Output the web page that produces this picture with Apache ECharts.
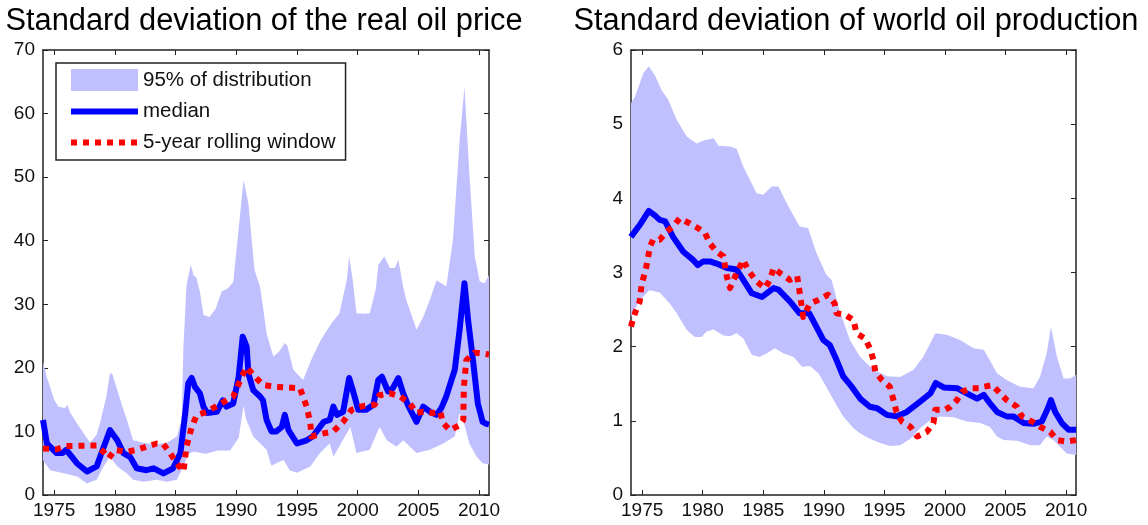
<!DOCTYPE html>
<html>
<head>
<meta charset="utf-8">
<script src="https://cdn.jsdelivr.net/npm/echarts@6/dist/echarts.min.js"></script>
<style>
  html, body { margin: 0; padding: 0; background: #fff; }
  #chart { width: 1148px; height: 525px; }
</style>
</head>
<body>
<div id="chart"></div>
<script>
// year ticks shared by both panels
const yearTicks = [1975, 1980, 1985, 1990, 1995, 2000, 2005, 2010]

// ---- real oil price ----
const oilUpX = [1974.08, 1974.4, 1974.67, 1975.0, 1975.36, 1975.9, 1976.1, 1976.3, 1976.87, 1977.5, 1977.96, 1978.5, 1978.8, 1979.3, 1979.6, 1979.8, 1980.2, 1980.6, 1981.0, 1981.5, 1982.35, 1983.3, 1984.3, 1985.1, 1985.5, 1985.65, 1985.9, 1986.25, 1986.5, 1986.7, 1987.0, 1987.3, 1987.8, 1988.3, 1988.8, 1989.3, 1989.75, 1990.2, 1990.6, 1991.0, 1991.5, 1991.96, 1992.2, 1992.5, 1993.05, 1993.5, 1994.0, 1994.2, 1994.7, 1995.5, 1996.3, 1997.0, 1997.85, 1998.5, 1999.1, 1999.3, 1999.6, 1999.9, 2000.5, 2001.0, 2001.5, 2001.7, 2002.2, 2002.65, 2003.07, 2003.35, 2003.75, 2004.0, 2004.85, 2005.4, 2005.95, 2006.5, 2007.3, 2007.85, 2008.4, 2008.8, 2009.2, 2009.65, 2010.06, 2010.45, 2010.82]
const oilUpY = [21.0, 18.5, 17.0, 15.0, 13.9, 13.7, 14.2, 13.0, 11.3, 9.5, 8.2, 9.5, 11.5, 15.5, 19.2, 19.0, 16.5, 14.0, 11.8, 8.6, 8.2, 8.0, 8.2, 9.2, 11.8, 23.3, 33.0, 36.2, 34.5, 34.3, 32.0, 28.3, 28.0, 29.3, 32.0, 32.5, 33.5, 42.0, 49.5, 45.9, 35.4, 32.8, 29.6, 25.4, 21.8, 22.5, 23.9, 23.5, 19.7, 18.1, 21.8, 24.5, 27.0, 28.6, 33.8, 37.5, 33.8, 28.6, 28.5, 28.6, 32.5, 36.2, 37.5, 35.7, 35.7, 37.0, 32.8, 30.7, 26.0, 28.0, 30.7, 33.8, 32.8, 40.1, 55.8, 64.2, 50.6, 37.5, 33.6, 33.3, 34.6]
const oilLowX = [1974.08, 1974.67, 1975.9, 1976.9, 1977.7, 1978.5, 1979.06, 1979.6, 1980.2, 1981.0, 1981.5, 1982.35, 1983.45, 1984.3, 1985.1, 1985.65, 1986.05, 1986.5, 1987.5, 1988.5, 1989.5, 1990.2, 1990.6, 1990.8, 1991.4, 1992.5, 1992.9, 1993.3, 1993.9, 1994.4, 1995.0, 1996.1, 1996.9, 1997.7, 1998.0, 1999.1, 1999.4, 1999.9, 2001.0, 2001.8, 2002.4, 2003.2, 2003.75, 2004.85, 2005.95, 2007.05, 2008.0, 2008.4, 2008.8, 2009.2, 2009.8, 2010.3, 2010.82]
const oilLowY = [5.5, 3.9, 3.4, 2.9, 1.8, 2.4, 4.5, 6.0, 4.5, 3.4, 2.4, 2.1, 2.4, 2.1, 2.4, 4.5, 6.5, 6.8, 6.5, 7.0, 7.0, 9.0, 14.0, 12.0, 9.2, 7.1, 4.6, 5.0, 5.5, 3.9, 3.5, 4.5, 6.6, 8.1, 6.0, 9.7, 10.7, 6.6, 7.1, 10.7, 8.6, 7.6, 8.6, 6.6, 7.1, 8.1, 9.2, 12.9, 11.0, 8.1, 6.0, 5.0, 4.8]
const oilMedX = [1974.08, 1974.4, 1975.2, 1975.7, 1976.0, 1976.87, 1977.7, 1978.5, 1978.9, 1979.6, 1980.2, 1980.7, 1981.25, 1981.8, 1982.6, 1983.2, 1984.0, 1984.8, 1985.4, 1985.8, 1986.05, 1986.33, 1986.6, 1987.0, 1987.3, 1987.6, 1988.4, 1988.9, 1989.2, 1989.75, 1990.2, 1990.53, 1990.86, 1991.0, 1991.4, 1991.96, 1992.2, 1992.5, 1992.9, 1993.3, 1993.75, 1994.0, 1994.3, 1995.0, 1995.8, 1996.3, 1997.2, 1997.7, 1998.0, 1998.3, 1998.8, 1999.3, 1999.6, 2000.05, 2000.7, 2001.3, 2001.7, 2002.0, 2002.5, 2002.9, 2003.35, 2003.75, 2004.2, 2004.85, 2005.4, 2005.95, 2006.5, 2006.9, 2007.3, 2008.0, 2008.4, 2008.8, 2009.1, 2009.5, 2009.9, 2010.3, 2010.6, 2010.82]
const oilMedY = [11.8, 8.1, 6.6, 6.6, 7.1, 5.0, 3.7, 4.5, 6.6, 10.2, 8.6, 6.6, 6.0, 4.2, 3.9, 4.2, 3.4, 4.2, 6.6, 12.9, 17.6, 18.4, 17.0, 16.0, 13.9, 12.9, 13.1, 14.9, 13.9, 14.4, 18.6, 24.9, 23.3, 19.1, 16.5, 15.5, 14.9, 11.8, 10.0, 10.0, 10.7, 12.6, 10.2, 8.1, 8.6, 9.2, 11.5, 11.8, 13.9, 12.6, 13.1, 18.4, 16.5, 13.4, 13.4, 14.2, 18.1, 18.6, 16.3, 16.8, 18.4, 16.0, 13.9, 11.5, 13.9, 13.1, 12.6, 13.7, 15.5, 19.7, 26.0, 33.3, 27.5, 21.2, 14.4, 11.5, 11.2, 11.1]
const oilRollX = [1974.08, 1975.2, 1976.0, 1978.5, 1979.06, 1979.5, 1980.0, 1981.0, 1981.8, 1982.6, 1983.45, 1984.0, 1984.55, 1985.1, 1985.65, 1985.9, 1986.33, 1986.75, 1987.6, 1988.3, 1989.75, 1990.45, 1990.86, 1991.4, 1992.2, 1993.3, 1995.25, 1995.8, 1996.1, 1996.2, 1997.2, 1998.0, 1998.8, 1999.5, 2000.45, 2001.4, 2001.8, 2002.65, 2003.5, 2004.3, 2004.85, 2005.4, 2006.2, 2006.8, 2007.05, 2007.6, 2008.4, 2008.7, 2008.75, 2008.95, 2009.65, 2010.82]
const oilRollY = [7.3, 7.2, 7.7, 7.8, 6.8, 5.8, 7.1, 6.8, 7.1, 7.6, 8.1, 8.0, 6.6, 5.0, 3.7, 7.6, 10.7, 12.6, 13.1, 13.9, 15.5, 18.6, 20.1, 18.9, 17.3, 17.0, 16.8, 13.9, 11.3, 9.2, 9.7, 10.0, 11.5, 13.4, 14.0, 14.2, 15.7, 16.0, 15.5, 14.4, 12.9, 13.1, 12.9, 13.1, 11.3, 10.2, 11.0, 11.8, 17.0, 21.2, 22.4, 22.1]

// ---- world oil production ----
const prodUpX = [1974.07, 1974.4, 1974.8, 1975.1, 1975.55, 1976.05, 1976.6, 1977.15, 1977.85, 1978.7, 1979.5, 1980.05, 1980.9, 1981.3, 1982.25, 1982.8, 1983.35, 1984.45, 1985.0, 1985.7, 1986.25, 1986.95, 1988.0, 1988.7, 1989.4, 1990.2, 1990.65, 1991.3, 1992.15, 1993.0, 1994.1, 1995.2, 1996.3, 1997.4, 1998.2, 1998.8, 1999.2, 2000.15, 2001.25, 2002.35, 2003.2, 2003.7, 2004.3, 2005.1, 2006.2, 2007.3, 2007.85, 2008.4, 2008.75, 2009.25, 2009.8, 2010.35, 2010.83]
const prodUpY = [5.28, 5.37, 5.55, 5.69, 5.78, 5.66, 5.46, 5.33, 5.06, 4.83, 4.74, 4.78, 4.81, 4.71, 4.70, 4.67, 4.43, 4.07, 4.05, 4.16, 4.16, 3.93, 3.62, 3.60, 3.26, 2.97, 2.90, 2.49, 2.09, 1.86, 1.69, 1.60, 1.59, 1.69, 1.86, 2.05, 2.18, 2.16, 2.09, 1.98, 1.96, 1.82, 1.64, 1.55, 1.46, 1.44, 1.59, 1.91, 2.27, 1.86, 1.57, 1.57, 1.62]
const prodLowX = [1974.07, 1974.8, 1975.6, 1976.45, 1977.3, 1977.85, 1978.7, 1979.35, 1979.9, 1980.3, 1980.9, 1981.7, 1982.25, 1982.8, 1983.35, 1984.05, 1984.7, 1985.3, 1985.95, 1986.65, 1987.5, 1988.2, 1988.85, 1989.55, 1990.2, 1990.8, 1991.6, 1992.45, 1993.0, 1993.8, 1994.65, 1995.45, 1996.3, 1997.15, 1997.95, 1998.8, 1999.6, 2000.7, 2001.8, 2002.9, 2003.7, 2004.3, 2004.85, 2005.95, 2007.05, 2007.85, 2008.4, 2008.95, 2009.5, 2010.05, 2010.83]
const prodLowY = [2.40, 2.63, 2.76, 2.73, 2.58, 2.45, 2.22, 2.13, 2.13, 2.20, 2.23, 2.15, 2.14, 2.18, 2.11, 1.89, 1.86, 1.91, 1.98, 1.91, 1.86, 1.73, 1.74, 1.64, 1.46, 1.28, 1.06, 0.90, 0.83, 0.76, 0.70, 0.66, 0.67, 0.76, 0.90, 1.01, 1.06, 1.05, 0.99, 0.97, 0.92, 0.79, 0.74, 0.73, 0.67, 0.67, 0.79, 0.74, 0.65, 0.56, 0.54]
const prodMedX = [1974.07, 1974.8, 1975.55, 1976.05, 1976.45, 1976.9, 1977.55, 1978.4, 1979.2, 1979.6, 1980.05, 1980.6, 1981.15, 1982.0, 1982.8, 1983.35, 1984.05, 1984.9, 1985.85, 1986.25, 1987.2, 1988.0, 1988.8, 1989.25, 1989.95, 1990.5, 1991.05, 1991.6, 1992.3, 1993.0, 1993.8, 1994.4, 1995.2, 1996.0, 1996.85, 1997.95, 1998.8, 1999.25, 1999.9, 2001.0, 2001.8, 2002.65, 2003.2, 2003.7, 2004.3, 2005.1, 2005.65, 2006.5, 2007.3, 2008.0, 2008.5, 2008.75, 2009.1, 2009.65, 2010.2, 2010.83]
const prodMedY = [3.48, 3.64, 3.83, 3.77, 3.71, 3.69, 3.48, 3.28, 3.17, 3.10, 3.15, 3.15, 3.12, 3.06, 3.04, 2.90, 2.72, 2.67, 2.79, 2.77, 2.61, 2.45, 2.45, 2.31, 2.09, 2.02, 1.82, 1.60, 1.46, 1.30, 1.19, 1.17, 1.08, 1.06, 1.12, 1.26, 1.37, 1.51, 1.45, 1.44, 1.37, 1.30, 1.35, 1.24, 1.12, 1.06, 1.06, 0.97, 0.96, 0.99, 1.17, 1.28, 1.12, 0.97, 0.88, 0.88]
const prodRollX = [1974.07, 1974.4, 1974.8, 1974.95, 1975.35, 1975.65, 1975.9, 1976.45, 1977.0, 1977.55, 1978.1, 1978.95, 1979.6, 1980.2, 1980.6, 1981.15, 1981.7, 1982.0, 1982.25, 1982.8, 1983.35, 1983.75, 1984.45, 1985.15, 1985.55, 1985.85, 1986.4, 1987.2, 1987.8, 1988.1, 1988.3, 1988.85, 1989.55, 1990.35, 1990.9, 1991.05, 1991.75, 1992.45, 1992.7, 1993.4, 1993.8, 1994.1, 1994.25, 1994.8, 1995.45, 1995.75, 1996.0, 1996.45, 1997.15, 1997.7, 1998.5, 1999.05, 1999.2, 2000.0, 2000.45, 2001.0, 2001.4, 2002.1, 2002.9, 2003.2, 2003.9, 2004.45, 2005.1, 2005.95, 2006.35, 2007.2, 2007.85, 2008.7, 2009.25, 2010.05, 2010.83]
const prodRollY = [2.27, 2.45, 2.61, 2.83, 3.08, 3.35, 3.44, 3.44, 3.55, 3.62, 3.73, 3.66, 3.60, 3.53, 3.39, 3.28, 3.22, 2.94, 2.79, 2.99, 3.17, 3.03, 2.88, 2.79, 2.90, 3.06, 2.99, 2.90, 2.95, 2.63, 2.40, 2.58, 2.63, 2.70, 2.58, 2.45, 2.43, 2.36, 2.18, 2.11, 1.98, 1.82, 1.66, 1.55, 1.46, 1.28, 1.12, 0.99, 0.92, 0.79, 0.85, 0.97, 1.15, 1.15, 1.19, 1.28, 1.39, 1.44, 1.44, 1.46, 1.48, 1.39, 1.28, 1.19, 1.06, 0.99, 0.92, 0.85, 0.74, 0.72, 0.74]

const bandColor = '#c0c0ff'
const medColor = '#0000ff'
const rollColor = '#ff0000'
const fontFamily = 'Liberation Sans, Arial, Helvetica, sans-serif'
const axisColor = '#222'

const pairs = (xs, ys) => xs.map((x, i) => [x, ys[i]])

function bandSeries(upX, upY, lowX, lowY, idx) {
  return {
    type: 'custom',
    name: '95% of distribution',
    xAxisIndex: idx * 2,
    yAxisIndex: idx * 2,
    silent: true,
    z: 1,
    itemStyle: { color: bandColor },
    data: [[upX[0], upY[0]]],
    renderItem(params, api) {
      const points = upX.map((x, i) => api.coord([x, upY[i]]))
      for (let i = lowX.length - 1; i >= 0; i--) {
        points.push(api.coord([lowX[i], lowY[i]]))
      }
      return { type: 'polygon', shape: { points }, style: { fill: bandColor } }
    }
  }
}

function lineSeries(name, xs, ys, color, dashed, idx) {
  return {
    type: 'line',
    name,
    xAxisIndex: idx * 2,
    yAxisIndex: idx * 2,
    symbol: 'none',
    silent: true,
    z: dashed ? 3 : 2,
    itemStyle: { color },
    lineStyle: { color, width: 6, type: dashed ? [6, 6] : 'solid', cap: 'butt', join: 'round' },
    data: pairs(xs, ys)
  }
}

function xAxes(grid) {
  const base = {
    type: 'value',
    gridIndex: grid,
    min: 1974.08,
    max: 2010.82,
    splitLine: { show: false },
    axisLine: { show: true, onZero: false, lineStyle: { color: axisColor, width: 1.5 } },
    axisTick: { show: true, inside: true, length: 5, customValues: yearTicks, lineStyle: { color: axisColor } }
  }
  return [
    Object.assign({}, base, {
      position: 'bottom',
      axisLabel: {
        customValues: yearTicks,
        formatter: v => String(v),
        color: '#111',
        fontSize: 19,
        fontFamily,
        margin: 6
      }
    }),
    Object.assign({}, base, { position: 'top', axisLabel: { show: false } })
  ]
}

function yAxes(grid, max, interval) {
  const base = {
    type: 'value',
    gridIndex: grid,
    min: 0,
    max,
    interval,
    splitLine: { show: false },
    axisLine: { show: true, onZero: false, lineStyle: { color: axisColor, width: 1.5 } },
    axisTick: { show: true, inside: true, length: 5, lineStyle: { color: axisColor } }
  }
  return [
    Object.assign({}, base, {
      position: 'left',
      axisLabel: { color: '#111', fontSize: 19, fontFamily, margin: 8 }
    }),
    Object.assign({}, base, { position: 'right', axisLabel: { show: false } })
  ]
}

const chart = echarts.init(document.getElementById('chart'), null, { renderer: 'canvas' })

chart.setOption({
  animation: false,
  backgroundColor: '#fff',
  title: [
    {
      text: 'Standard deviation of the real oil price',
      left: 264,
      textAlign: 'center',
      top: 6,
      padding: 0,
      textStyle: { fontSize: 30.8, fontWeight: 'normal', color: '#000', fontFamily }
    },
    {
      text: 'Standard deviation of world oil production',
      left: 856,
      textAlign: 'center',
      top: 6,
      padding: 0,
      textStyle: { fontSize: 30.8, fontWeight: 'normal', color: '#000', fontFamily }
    }
  ],
  legend: {
    orient: 'vertical',
    left: 56,
    top: 63,
    itemWidth: 67,
    itemHeight: 22,
    itemGap: 10,
    padding: [6, 10, 7, 12],
    borderColor: '#222',
    borderWidth: 1.5,
    backgroundColor: '#fff',
    selectedMode: false,
    textStyle: { fontSize: 20.5, color: '#111', fontFamily },
    lineStyle: { width: 'inherit' },
    data: [
      { name: '95% of distribution', icon: 'rect' },
      // line series always add a marker to their legend icon; hide it
      { name: 'median', itemStyle: { opacity: 0 } },
      { name: '5-year rolling window', itemStyle: { opacity: 0 } }
    ]
  },
  grid: [
    { left: 43, top: 50, width: 446, height: 445 },
    { left: 631, top: 50, width: 445, height: 445 }
  ],
  xAxis: [...xAxes(0), ...xAxes(1)],
  yAxis: [...yAxes(0, 70, 10), ...yAxes(1, 6, 1)],
  series: [
    bandSeries(oilUpX, oilUpY, oilLowX, oilLowY, 0),
    lineSeries('median', oilMedX, oilMedY, medColor, false, 0),
    lineSeries('5-year rolling window', oilRollX, oilRollY, rollColor, true, 0),
    bandSeries(prodUpX, prodUpY, prodLowX, prodLowY, 1),
    lineSeries('median', prodMedX, prodMedY, medColor, false, 1),
    lineSeries('5-year rolling window', prodRollX, prodRollY, rollColor, true, 1)
  ]
})
</script>
</body>
</html>
